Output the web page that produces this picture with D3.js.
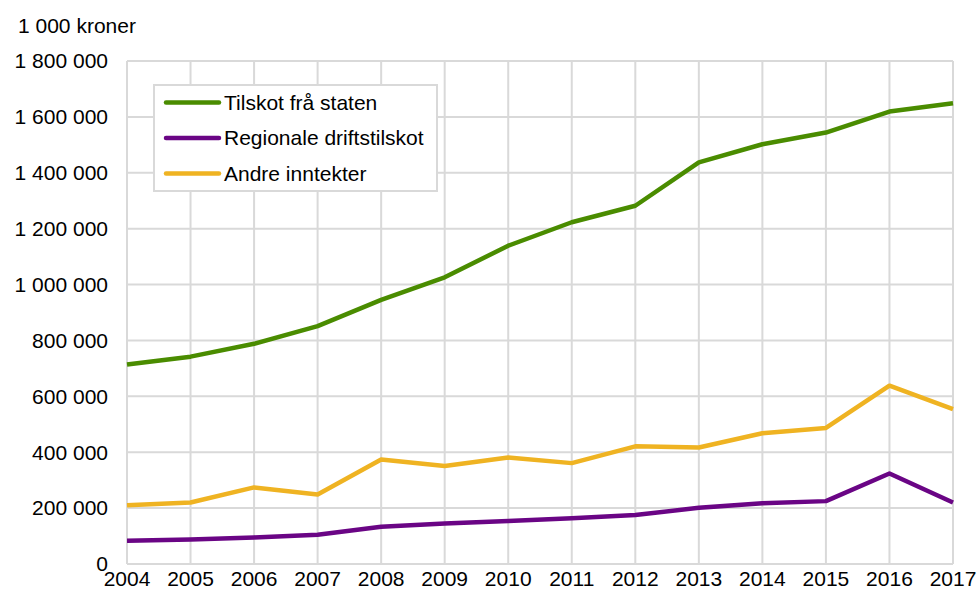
<!DOCTYPE html>
<html lang="nn">
<head>
<meta charset="UTF-8">
<title>Inntekter</title>
<script src="https://cdn.jsdelivr.net/npm/d3@7"></script>
<style>
  body { margin: 0; background: #fff; }
  text { font-family: "Liberation Sans", Arial, sans-serif; fill: #000; }
</style>
</head>
<body>
<svg width="977" height="590"></svg>
<script>
// data
var years = [2004, 2005, 2006, 2007, 2008, 2009, 2010, 2011, 2012, 2013, 2014, 2015, 2016, 2017];
var tilskotStaten = [714000, 742000, 788000, 851000, 945000, 1026000, 1139000, 1223000, 1282000, 1437000, 1502000, 1544000, 1619000, 1649000];
var regionaleDrift = [83000, 88000, 95000, 105000, 133000, 145000, 154000, 164000, 175000, 201000, 217000, 225000, 324000, 220000];
var andreInntekter = [210000, 220000, 274000, 249000, 374000, 351000, 381000, 361000, 421000, 417000, 468000, 487000, 638000, 554000];
var yTicks = [0, 200000, 400000, 600000, 800000, 1000000, 1200000, 1400000, 1600000, 1800000];
var seriesNames = ["Tilskot frå staten", "Regionale driftstilskot", "Andre inntekter"];
var seriesColors = ["#4a8c00", "#6a0585", "#efb322"];

var series = [tilskotStaten, regionaleDrift, andreInntekter].map(function(vals, i) {
  return { name: seriesNames[i], color: seriesColors[i], values: vals };
});

var svg = d3.select("svg");

var x = d3.scaleLinear()
  .domain([2004, 2017])
  .range([127, 953]);

var y = d3.scaleLinear()
  .domain([0, 1800000])
  .range([564, 61]);

var fmt = function(v) {
  return d3.format(",")(v).replace(/,/g, " ");
};

// gridlines
svg.append("g")
  .selectAll("line")
  .data(yTicks)
  .join("line")
  .attr("x1", x(2004)).attr("x2", x(2017))
  .attr("y1", function(d) { return y(d); })
  .attr("y2", function(d) { return y(d); })
  .attr("stroke", "#d9d9d9")
  .attr("stroke-width", 2);

svg.append("g")
  .selectAll("line")
  .data(years)
  .join("line")
  .attr("x1", function(d) { return x(d); })
  .attr("x2", function(d) { return x(d); })
  .attr("y1", y(1800000)).attr("y2", y(0))
  .attr("stroke", "#d9d9d9")
  .attr("stroke-width", 2);

// y tick labels
svg.append("g")
  .selectAll("text")
  .data(yTicks)
  .join("text")
  .attr("x", 108)
  .attr("y", function(d) { return y(d); })
  .attr("dy", "0.35em")
  .attr("text-anchor", "end")
  .attr("font-size", 21)
  .text(function(d) { return fmt(d); });

// x tick labels
svg.append("g")
  .selectAll("text")
  .data(years)
  .join("text")
  .attr("x", function(d) { return x(d); })
  .attr("y", 586)
  .attr("text-anchor", "middle")
  .attr("font-size", 21)
  .text(function(d) { return d; });

// unit label
svg.append("text")
  .attr("x", 18)
  .attr("y", 33)
  .attr("font-size", 21)
  .text("1 000 kroner");

// lines
var line = d3.line()
  .x(function(d, i) { return x(years[i]); })
  .y(function(d) { return y(d); });

svg.append("g")
  .selectAll("path")
  .data(series)
  .join("path")
  .attr("d", function(d) { return line(d.values); })
  .attr("fill", "none")
  .attr("stroke", function(d) { return d.color; })
  .attr("stroke-width", 4.5)
  .attr("stroke-linejoin", "round");

// legend
var legend = svg.append("g");

legend.append("rect")
  .attr("x", 154).attr("y", 85)
  .attr("width", 283).attr("height", 106)
  .attr("fill", "#fff")
  .attr("stroke", "#d9d9d9")
  .attr("stroke-width", 2);

var items = legend.selectAll("g.item")
  .data(series)
  .join("g")
  .attr("class", "item")
  .attr("transform", function(d, i) { return "translate(0," + (102.5 + i * 35.5) + ")"; });

items.append("line")
  .attr("x1", 166).attr("x2", 219)
  .attr("stroke", function(d) { return d.color; })
  .attr("stroke-width", 4.5)
  .attr("stroke-linecap", "round");

items.append("text")
  .attr("x", 224)
  .attr("dy", "0.35em")
  .attr("font-size", 21)
  .text(function(d) { return d.name; });
</script>
</body>
</html>
